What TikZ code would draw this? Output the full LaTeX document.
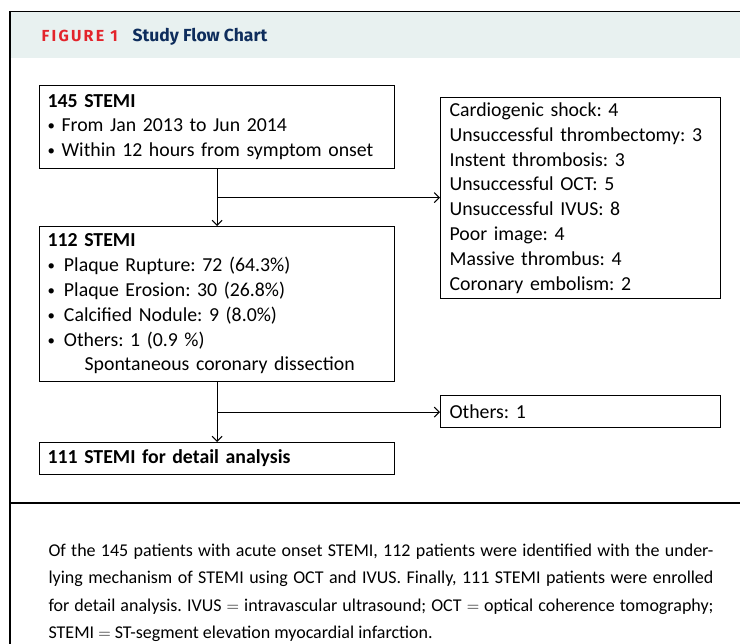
\documentclass[tikz,border=0pt]{standalone}
\usepackage{fontspec}
\setmainfont{Carlito}
\newfontfamily\titlefont{Fira Sans}
\usetikzlibrary{arrows.meta}
\usetikzlibrary{calc}
\definecolor{figred}{HTML}{E3242B}
\definecolor{fignavy}{HTML}{0E2D5C}
\definecolor{headbg}{HTML}{E8F1F0}
\newcommand{\blt}{\raisebox{1pt}{\scalebox{0.75}{•}}}
\frenchspacing

\begin{document}
\begin{tikzpicture}[x=1pt,y=1pt,->,>={Straight Barb[length=5pt,width=10pt]},line width=1.1pt]
  \tikzstyle{every node}=[inner sep=0pt]
  \tikzstyle{flowbox}=[draw=black,line width=1.2pt,anchor=north west,align=left,inner xsep=8pt,font=\fontsize{19.8}{24.8}\selectfont]

  \useasboundingbox (0,0) rectangle (740,-644);

  % frame and header
  \fill[headbg] (10,-12) rectangle (740,-58);
  \draw[-,line width=1.6pt] (10,-644) -- (10,-11.5) -- (740,-11.5);
  \draw[-,line width=1.6pt] (10,-503) -- (740,-503);
  \node[anchor=base west,text=figred,font=\titlefont\bfseries\fontsize{16}{18}\selectfont\addfontfeature{LetterSpace=14}] (fig) at (41,-42) {FIGURE 1};
  \node[anchor=base west,text=fignavy,font=\titlefont\bfseries\fontsize{17.5}{20}\selectfont] (title) at (132,-42) {Study Flow Chart};

  % boxes
  \node[flowbox,text width=339pt,minimum height=83pt] (start) at (39,-85)
    {\textbf{145 STEMI}\\ \blt{} From Jan 2013 to Jun 2014\\ \blt{} Within 12 hours from symptom onset};
  \node[flowbox,text width=262pt,minimum height=201pt,inner xsep=9pt] (excl) at (440,-97)
    {Cardiogenic shock: 4\\ Unsuccessful thrombectomy: 3\\ Instent thrombosis: 3\\ Unsuccessful OCT: 5\\
     Unsuccessful IVUS: 8\\ Poor image: 4\\ Massive thrombus: 4\\ Coronary embolism: 2};
  \node[flowbox,text width=339pt,minimum height=155pt] (mech) at (39,-226)
    {\textbf{112 STEMI}\\ \blt\hspace{9pt}Plaque Rupture: 72 (64.3\%)\\ \blt\hspace{9pt}Plaque Erosion: 30 (26.8\%)\\
     \blt\hspace{9pt}Calcified Nodule: 9 (8.0\%)\\ \blt\hspace{9pt}Others: 1 (0.9 \%)\\ \hspace*{37pt}Spontaneous coronary dissection};
  \node[flowbox,text width=262pt,minimum height=32pt,inner xsep=9pt] (other) at (440,-395) {Others: 1};
  \node[flowbox,text width=339pt,minimum height=32pt] (final) at (39,-442) {\textbf{111 STEMI for detail analysis}};

  % connectors
  \coordinate (split1) at ($(start.south)!0.5!(mech.north)$);
  \coordinate (split2) at ($(mech.south)!0.5!(final.north)$);
  \draw (start.south) -- (mech.north);
  \draw (split1) -- (split1 -| excl.west);
  \draw (mech.south) -- (final.north);
  \draw (split2) -- (split2 -| other.west);

  % caption
  \node[anchor=north west,text width=665pt,align=justify,font=\fontsize{18}{27.6}\selectfont] (caption) at (48,-543)
    {Of the 145 patients with acute onset STEMI, 112 patients were identified with the under-\linebreak
     lying mechanism of STEMI using OCT and IVUS. Finally, 111 STEMI patients were enrolled\linebreak
     for detail analysis. IVUS $=$ intravascular ultrasound; OCT $=$ optical coherence tomography;\linebreak
     STEMI $=$ ST-segment elevation myocardial infarction.};
\end{tikzpicture}
\end{document}
